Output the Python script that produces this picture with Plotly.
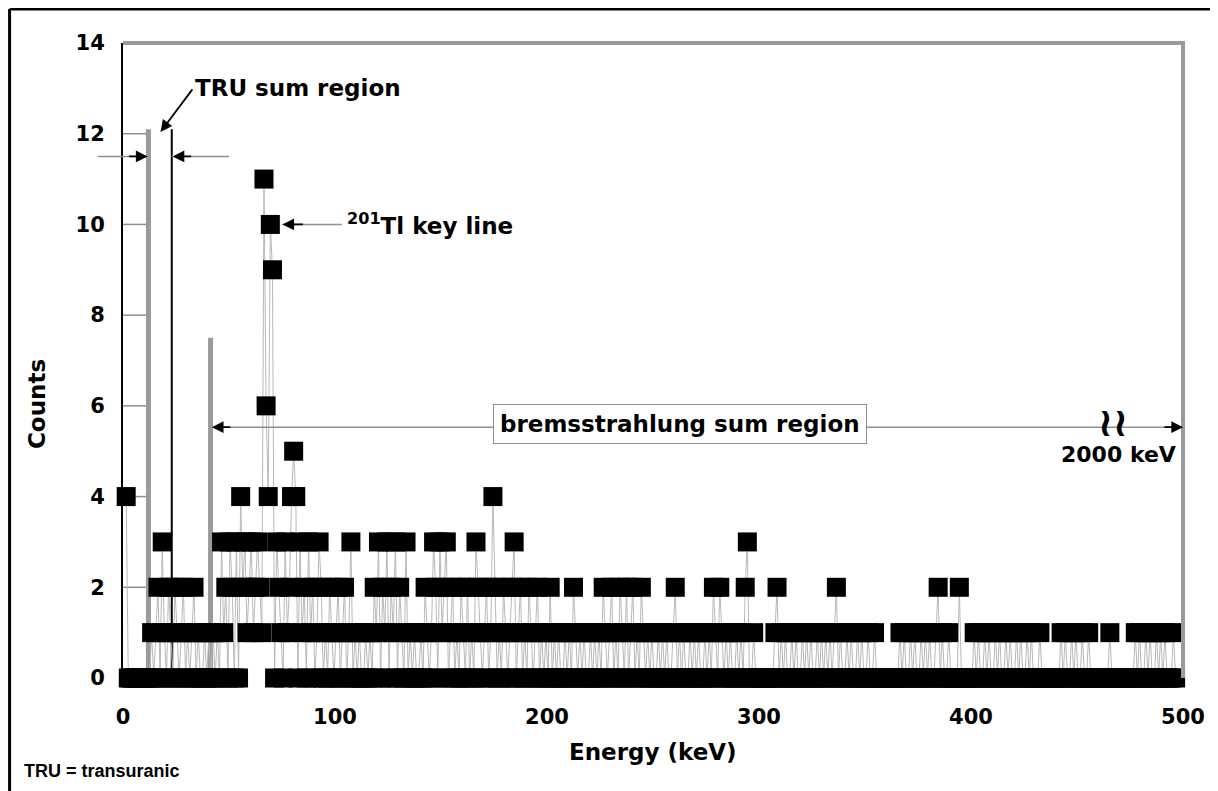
import numpy as np
import plotly.graph_objects as go

# ---------------- data: counts per 1-keV channel (channel k centred at k+0.5 keV) ----------------
first_channel = 1
counts_001_050 = [4, 0, 0, 0, 0, 0, 0, 0, 0, 0,
                  0, 0, 1, 0, 1, 2, 0, 3, 1, 0,
                  2, 1, 0, 2, 1, 0, 1, 2, 0, 1,
                  0, 1, 2, 0, 1, 0, 0, 1, 0, 1,
                  0, 1, 0, 1, 0, 3, 1, 2, 0, 3]
counts_051_100 = [2, 0, 3, 0, 4, 2, 3, 1, 2, 3,
                  1, 2, 3, 2, 1, 11, 6, 4, 10, 9,
                  0, 3, 2, 1, 0, 3, 1, 2, 4, 5,
                  4, 0, 3, 1, 2, 0, 3, 1, 2, 0,
                  1, 3, 2, 0, 1, 0, 2, 1, 0, 1]
counts_101_150 = [2, 0, 1, 2, 0, 1, 3, 0, 1, 0,
                  1, 0, 0, 1, 0, 1, 0, 2, 1, 3,
                  0, 2, 1, 3, 0, 2, 1, 3, 0, 2,
                  1, 0, 3, 0, 1, 0, 1, 0, 0, 1,
                  0, 2, 1, 0, 1, 3, 2, 0, 3, 1]
counts_151_200 = [2, 3, 0, 1, 2, 0, 1, 0, 2, 1,
                  0, 2, 0, 1, 0, 3, 2, 1, 0, 1,
                  2, 0, 1, 4, 2, 0, 1, 0, 2, 1,
                  0, 1, 2, 3, 0, 1, 2, 0, 1, 0,
                  2, 1, 0, 1, 2, 0, 1, 0, 1, 0]
counts_201_250 = [2, 0, 1, 0, 1, 0, 0, 1, 0, 1,
                  0, 2, 1, 0, 1, 0, 1, 0, 0, 1,
                  0, 1, 0, 1, 0, 2, 1, 0, 1, 2,
                  0, 1, 0, 2, 1, 0, 2, 0, 1, 2,
                  0, 1, 0, 2, 1, 0, 1, 0, 1, 0]
counts_251_300 = [0, 1, 0, 1, 0, 1, 0, 0, 1, 2,
                  0, 1, 0, 1, 0, 0, 1, 0, 1, 0,
                  1, 0, 0, 1, 0, 1, 0, 2, 1, 0,
                  2, 1, 0, 1, 0, 1, 0, 0, 1, 0,
                  1, 0, 2, 3, 0, 0, 1, 0, 0, 0]
counts_301_350 = [0, 0, 0, 0, 0, 0, 1, 2, 0, 1,
                  0, 1, 0, 0, 1, 0, 1, 0, 0, 1,
                  0, 1, 0, 1, 0, 0, 1, 0, 1, 0,
                  1, 0, 1, 0, 1, 2, 0, 1, 0, 0,
                  1, 0, 1, 0, 0, 1, 0, 1, 0, 0]
counts_351_400 = [1, 0, 0, 1, 0, 0, 0, 0, 0, 0,
                  0, 0, 0, 0, 0, 1, 0, 1, 0, 0,
                  1, 0, 1, 0, 0, 1, 0, 1, 0, 1,
                  0, 0, 1, 2, 0, 1, 0, 0, 1, 0,
                  0, 0, 0, 2, 0, 0, 0, 0, 0, 0]
counts_401_450 = [1, 0, 1, 0, 0, 1, 0, 1, 0, 0,
                  1, 0, 1, 0, 0, 1, 0, 1, 0, 0,
                  1, 0, 1, 0, 0, 1, 0, 1, 0, 0,
                  0, 1, 0, 0, 0, 0, 0, 0, 0, 0,
                  0, 1, 0, 1, 0, 0, 1, 0, 1, 0]
counts_451_496 = [0, 1, 0, 0, 1, 0, 0, 0, 0, 0,
                  0, 0, 0, 0, 1, 0, 0, 0, 0, 0,
                  0, 0, 0, 0, 0, 0, 1, 0, 1, 0,
                  0, 1, 0, 1, 0, 0, 1, 0, 1, 0,
                  1, 0, 0, 0, 1, 0]

x_ticks = [0, 100, 200, 300, 400, 500]
y_ticks = [0, 2, 4, 6, 8, 10, 12, 14]

# region markers (keV / counts)
tru_region_keV = [12, 23]
tru_line_top = 12.1
tru_arrow_level = 11.5
brems_start_keV = 41.3
brems_line_top = 7.5
brems_arrow_level = 5.53
tl_key_keV = 75.2
tl_key_level = 10

counts = (counts_001_050 + counts_051_100 + counts_101_150 + counts_151_200 +
          counts_201_250 + counts_251_300 + counts_301_350 + counts_351_400 +
          counts_401_450 + counts_451_496)
energy_keV = np.arange(first_channel, first_channel + len(counts)) + 0.5

FONT = "DejaVu Sans, Verdana, sans-serif"
GRAY = "#9a9a9a"
LGRAY = "#8f8f8f"

X0, X1 = x_ticks[0], x_ticks[-1]
Y0, Y1 = y_ticks[0], y_ticks[-1]


def xp(v):  # data keV -> paper fraction
    return (v - X0) / (X1 - X0)


def yp(v):  # data counts -> paper fraction
    return (v - Y0) / (Y1 - Y0)


fig = go.Figure()
fig.add_trace(go.Scatter(
    x=energy_keV, y=counts, mode="lines+markers",
    line=dict(color="#b8b8b8", width=1),
    marker=dict(symbol="square", size=19, color="black", line=dict(width=0)),
    cliponaxis=False, hoverinfo="skip",
))

shapes = []
# plot-area top and right borders (gray)
shapes.append(dict(type="line", xref="paper", yref="paper", x0=0, x1=1.002, y0=1, y1=1,
                   line=dict(color=GRAY, width=4)))
shapes.append(dict(type="line", xref="paper", yref="paper", x0=1, x1=1, y0=0, y1=1,
                   line=dict(color=GRAY, width=4)))
# outer frame (top and left)
shapes.append(dict(type="line", xref="paper", yref="paper", x0=-0.107, x1=1.04, y0=1.0535, y1=1.0535,
                   line=dict(color="black", width=3)))
shapes.append(dict(type="line", xref="paper", yref="paper", x0=-0.107, x1=-0.107, y0=-0.2, y1=1.0535,
                   line=dict(color="black", width=3)))
# short gray stubs between axis and TRU lower bound
for yv in y_ticks[1:-1]:
    shapes.append(dict(type="line", xref="x", yref="y", x0=0, x1=tru_region_keV[0], y0=yv, y1=yv,
                       line=dict(color=LGRAY, width=1.5), layer="below"))
# TRU region boundaries
shapes.append(dict(type="line", xref="x", yref="y", x0=tru_region_keV[0], x1=tru_region_keV[0],
                   y0=0, y1=tru_line_top, line=dict(color=GRAY, width=5), layer="below"))
shapes.append(dict(type="line", xref="x", yref="y", x0=tru_region_keV[1], x1=tru_region_keV[1],
                   y0=0, y1=tru_line_top, line=dict(color="black", width=2), layer="below"))
# bremsstrahlung region lower boundary
shapes.append(dict(type="line", xref="x", yref="y", x0=brems_start_keV, x1=brems_start_keV,
                   y0=0, y1=brems_line_top, line=dict(color=GRAY, width=5), layer="below"))
# arrow shafts (paper refs so they may run outside the axes)
shapes.append(dict(type="line", xref="paper", yref="paper", x0=xp(-12), x1=xp(tru_region_keV[0]),
                   y0=yp(tru_arrow_level), y1=yp(tru_arrow_level), line=dict(color=LGRAY, width=1.5)))
shapes.append(dict(type="line", xref="paper", yref="paper", x0=xp(tru_region_keV[1]), x1=xp(50),
                   y0=yp(tru_arrow_level), y1=yp(tru_arrow_level), line=dict(color=LGRAY, width=1.5)))
shapes.append(dict(type="line", xref="paper", yref="paper", x0=xp(brems_start_keV), x1=1,
                   y0=yp(brems_arrow_level), y1=yp(brems_arrow_level), line=dict(color=LGRAY, width=1.5)))
shapes.append(dict(type="line", xref="paper", yref="paper", x0=xp(tl_key_keV), x1=xp(tl_key_keV + 28),
                   y0=yp(tl_key_level), y1=yp(tl_key_level), line=dict(color=LGRAY, width=1.5)))

bold = dict(family=FONT, size=23, color="black", weight="bold")
tickbold = dict(family=FONT, size=21, color="black", weight="bold")
ann = []


def arrow(x, y, ax, ay):
    ann.append(dict(x=x, y=y, xref="x", yref="y", ax=ax, ay=ay, text="", showarrow=True,
                    arrowhead=2, arrowsize=1.3, arrowwidth=1.8, arrowcolor="black", standoff=0))


arrow(tru_region_keV[0] - 0.4, tru_arrow_level, -20, 0)
arrow(tru_region_keV[1] + 0.4, tru_arrow_level, 20, 0)
arrow(brems_start_keV + 0.6, brems_arrow_level, 20, 0)
arrow(X1, brems_arrow_level, -20, 0)
arrow(tl_key_keV, tl_key_level, 22, 0)
arrow(17.7, 12.04, 33, -44)

ann.append(dict(x=33.0, y=13.0, xref="x", yref="y", text="TRU sum region", showarrow=False,
                xanchor="left", yanchor="middle", font=bold))
ann.append(dict(x=104.5, y=tl_key_level, xref="x", yref="y", text="<sup>201</sup>Tl key line",
                showarrow=False, xanchor="left", yanchor="middle", font=bold))
ann.append(dict(x=262.8, y=brems_arrow_level + 0.08, xref="x", yref="y", text="bremsstrahlung sum region",
                showarrow=False, xanchor="center", yanchor="middle", font=bold,
                bgcolor="white", bordercolor=LGRAY, borderwidth=1, borderpad=6))
ann.append(dict(x=467.0, y=brems_arrow_level + 0.12, xref="x", yref="y", text="≀≀",
                showarrow=False, xanchor="center", yanchor="middle",
                font=dict(family="DejaVu Sans", size=40, color="black", weight="bold")))
ann.append(dict(x=497.6, y=4.92, xref="x", yref="y", text="2000 keV", showarrow=False,
                xanchor="right", yanchor="middle", font=dict(family=FONT, size=22, color="black",
                                                             weight="bold")))
ann.append(dict(x=-0.0811, y=0.4315, xref="paper", yref="paper", text="Counts", textangle=-90,
                showarrow=False, xanchor="center", yanchor="middle", font=bold))
ann.append(dict(x=0.5, y=-0.1165, xref="paper", yref="paper", text="Energy (keV)",
                showarrow=False, xanchor="center", yanchor="middle", font=bold))
ann.append(dict(x=-0.0953, y=-0.1465, xref="paper", yref="paper", text="TRU = transuranic",
                showarrow=False, xanchor="left", yanchor="middle",
                font=dict(family="Liberation Sans, Arial, sans-serif", size=18, color="black",
                          weight="bold")))

fig.update_layout(
    width=1210, height=783,
    margin=dict(l=115, r=35, t=35, b=113),
    paper_bgcolor="white", plot_bgcolor="white",
    showlegend=False,
    shapes=shapes, annotations=ann,
    xaxis=dict(range=[X0, X1], tickvals=x_ticks, showgrid=False, zeroline=False, showline=False,
               ticks="", tickfont=tickbold, ticklabelstandoff=24),
    yaxis=dict(range=[Y0, Y1], tickvals=y_ticks, showgrid=False, zeroline=False, showline=True,
               linecolor="black", linewidth=2, ticks="", tickfont=tickbold, ticklabelstandoff=12),
)

fig.write_html("out.html")
